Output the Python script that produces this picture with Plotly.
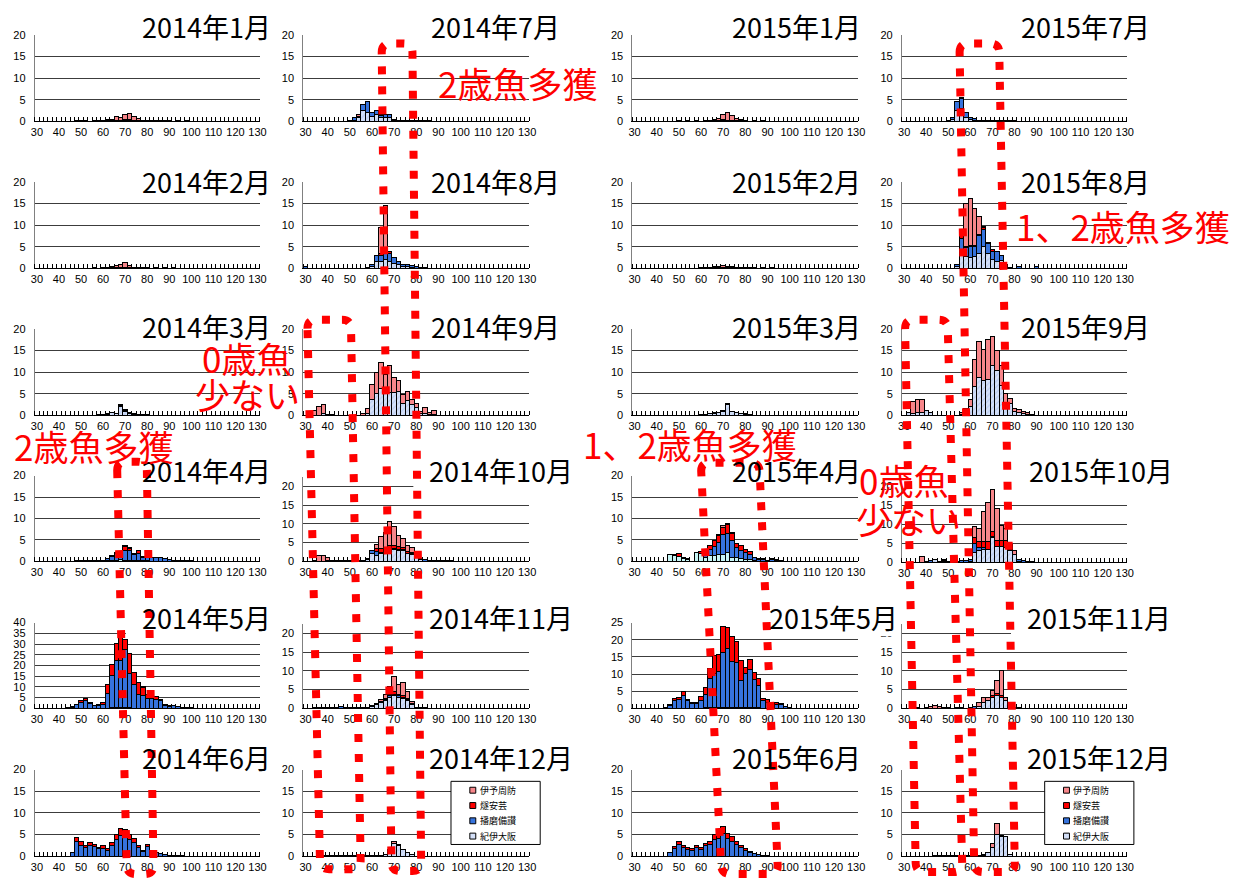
import plotly.graph_objects as go

W, H = 1240, 885

MONTHS = [
    "2014年1月", "2014年2月", "2014年3月", "2014年4月", "2014年5月", "2014年6月",
    "2014年7月", "2014年8月", "2014年9月", "2014年10月", "2014年11月", "2014年12月",
    "2015年1月", "2015年2月", "2015年3月", "2015年4月", "2015年5月", "2015年6月",
    "2015年7月", "2015年8月", "2015年9月", "2015年10月", "2015年11月", "2015年12月",
]
LENGTH_TICKS = list(range(30, 131, 10))
BIN_WIDTH = 2

# Counts per 2 cm length class: (first class in cm, counts of consecutive classes)
KII_OSAKA = {
    "2014年1月": (70, [0.1, 0.2, 0.1]),
    "2014年2月": (68, [0.1, 0.1]),
    "2014年3月": (62, [0.3, 0.6, 0.4, 2.1, 1.0, 0.5, 0.3, 0.2]),
    "2014年4月": (62, [0.2, 0.3, 0.3, 0.4, 0.3, 0.3, 0.3, 0.3, 0.2, 0.2]),
    "2014年5月": (64, [0.3, 0.3, 0.3, 0.3, 0.3]),
    "2014年7月": (52, [0.3, 0.8, 2.5, 2.0, 1.2, 1.6, 1.0, 1.0, 1.0, 0.2]),
    "2014年8月": (58, [0.2, 0.5, 1.5, 1.5, 2.0, 1.5, 1.2, 0.8, 0.5, 0.4, 0.3]),
    "2014年9月": (38, [0.5, 0.2, 0, 0, 0, 0, 0, 0, 0, 0, 0.5, 3.6, 5.0, 6.1, 5.5, 5.2,
                       5.2, 5.6, 2.8, 3.5, 2.5, 1.8, 0.5, 0.5, 0.3, 0.3]),
    "2014年10月": (40, [0.3, 0, 0, 0, 0, 0, 0, 0, 0, 0.5, 2.0, 1.5, 2.0, 2.3, 2.8, 3.2,
                        3.0, 3.0, 2.0, 1.8, 1.0, 0.5]),
    "2014年11月": (60, [0.5, 1.0, 1.5, 2.0, 3.0, 3.5, 3.0, 2.5, 2.0, 1.0]),
    "2014年12月": (66, [0.5, 1.5, 3.0, 2.5, 1.5, 0.8, 0.5]),
    "2015年1月": (70, [0.2, 0.1]),
    "2015年3月": (64, [0.4, 0.5, 0.6, 0.8, 2.5, 0.8, 0.6, 0.4, 0.3, 0.2]),
    "2015年4月": (46, [1.7, 1.3, 1.1, 0.7, 0.5, 0, 2.1, 1.8, 1.0, 1.3, 1.4, 1.5, 1.7, 2.0,
                       1.0, 0.8, 0.6, 0.5, 0.4, 0.2]),
    "2015年5月": (62, [0.2] * 13),
    "2015年7月": (52, [0.5, 2.5, 3.0, 1.0, 0.5, 0.3]),
    "2015年8月": (54, [0.5, 3.0, 2.8, 2.6, 2.8, 3.5, 5.0, 3.5, 2.0, 1.5, 1.8, 0.5]),
    "2015年9月": (32, [0.7, 0.5, 0.6, 0.7, 1.1, 0.6, 0, 0, 0, 0, 0, 0, 0.3, 0.8, 2.0, 6.7,
                       8.7, 8.0, 8.3, 11.5, 10.4, 7.0, 3.0, 2.7, 0.8, 0.6, 0.5, 0.3, 0.2]),
    "2015年10月": (44, [0.8, 0, 0, 0, 0, 0, 0, 0, 0.3, 2.7, 3.0, 3.5, 3.3, 6.5, 4.3, 4.3,
                        3.8, 3.0, 2.0, 0.3]),
    "2015年11月": (64, [0.5, 1.5, 2.0, 3.0, 3.5, 3.0, 2.0, 0.5]),
    "2015年12月": (66, [0.3, 0.8, 2.0, 5.0, 4.5, 4.5, 0.5]),
}

HARIMA_BISAN = {
    "2014年1月": (48, [0.2, 0.2, 0.2, 0, 0.2, 0.2, 0.2, 0.2, 0.1, 0.1, 0.1, 0.1, 0.1, 0.1,
                       0.1, 0.1, 0.2, 0.2, 0.2, 0.2, 0.2, 0.2, 0, 0.2, 0, 0.2]),
    "2014年2月": (56, [0.1, 0, 0.2, 0.1, 0.1, 0.1, 0.1, 0.1, 0.1, 0.1, 0.1, 0.1, 0.1, 0,
                       0.1, 0, 0.1, 0, 0.1]),
    "2014年3月": (58, [0.1] * 12),
    "2014年4月": (48, [0.2, 0.2, 0.2, 0.2, 0.2, 0.3, 0.3, 0.4, 0.8, 1.5, 1.4, 2.3, 2.3, 1.2,
                       1.5, 0.8, 0.7, 0.8, 0.8, 0.8, 0.6, 0.4, 0.3, 0.3, 0.3, 0.3, 0.2]),
    "2014年5月": (44, [0.3, 0.6, 1.6, 2.8, 3.6, 2.2, 1.3, 1.4, 2.0, 7.0, 15.0, 22.0, 22.0,
                       27.0, 16.0, 11.0, 6.5, 6.0, 4.5, 4.5, 4.2, 3.6, 1.5, 1.0, 1.2, 0.8,
                       0.5, 0.3, 0.2]),
    "2014年6月": (46, [0.8, 3.5, 2.6, 2.0, 2.5, 2.2, 1.7, 1.9, 1.4, 2.5, 3.8, 4.7, 4.7, 3.8,
                       3.2, 2.1, 1.0, 2.2, 0.8, 0.8, 0.6, 0.4, 0.3, 0.3, 0.2, 0.2]),
    "2014年7月": (50, [0.2, 0.7, 0.3, 1.3, 2.6, 0.9, 0.9, 0.4, 0.5, 0.5, 0.2, 0.3, 0.3, 0.3,
                       0.3, 0.2, 0.2, 0.2, 0.2]),
    "2014年8月": (30, [0.5, 0, 0, 0, 0, 0, 0, 0, 0, 0, 0, 0, 0, 0, 0, 0.5, 1.5, 1.5, 1.5,
                       2.0, 1.3, 0.8, 0.5, 0.4, 0.3, 0.4, 0.3, 0.3]),
    "2014年9月": (42, [0.2]),
    "2014年10月": (34, [0.3, 0, 0, 0, 0.3, 0.2, 0.2, 0.2, 0.2, 0.3, 0.2, 0.3, 0.3, 0.8, 1.0,
                        0.3, 0.3, 0.2, 0.2, 0.2, 0.2, 0.2, 0.2, 0.3, 0.3, 0.4, 0.3, 0.3,
                        0.2, 0.2, 0.2, 0.2]),
    "2014年11月": (34, [0.2, 0.3, 0.3, 0.2, 0.3, 0.3, 0.5, 0.3, 0.3, 0.3, 0.3, 0.3, 0.3,
                        0.3, 0.3, 0.3, 0.3, 0.3, 0.3, 0.3, 0.3, 0.3, 0.3, 0.3, 0.3, 0.2]),
    "2014年12月": (36, [0.2] * 15),
    "2015年1月": (50, [0.2, 0, 0.2, 0, 0.2, 0, 0.2, 0, 0.2, 0, 0.2, 0.1, 0.1, 0.1, 0.1, 0.1,
                       0, 0.2, 0, 0.2]),
    "2015年2月": (60, [0.1, 0.1, 0.1, 0.1, 0.1, 0.1, 0.1, 0.1, 0.1, 0.1, 0.1, 0.1, 0.1, 0,
                       0.1, 0, 0.1]),
    "2015年3月": (60, [0.1] * 12),
    "2015年4月": (52, [0.1, 0, 0, 0, 0, 0.7, 1.5, 2.0, 3.0, 4.5, 4.5, 3.8, 2.4, 2.0, 1.5,
                       1.3, 0.6, 0.5, 0.4, 0.3, 0.4, 0.3, 0.2]),
    "2015年5月": (44, [0.3, 0.8, 2.4, 2.6, 3.8, 2.2, 1.4, 1.3, 2.3, 3.8, 8.5, 10.0, 10.5,
                       16.1, 17.2, 13.6, 13.1, 7.8, 10.0, 11.2, 8.3, 6.6, 2.3, 1.8, 1.2,
                       1.2, 1.1, 0.4, 0.2]),
    "2015年6月": (46, [0.8, 1.8, 2.8, 2.0, 1.6, 1.4, 2.0, 1.6, 2.4, 2.8, 3.8, 4.2, 5.2, 4.0,
                       3.5, 2.8, 2.0, 1.4, 0.8, 0.6, 0.4, 0.3, 0.2]),
    "2015年7月": (50, [0.3, 0.5, 2.0, 2.3, 1.0, 0.3, 0.3, 0.3, 0.3, 0.3, 0.3, 0.3, 0.3, 0.2,
                       0.2, 0.2]),
    "2015年8月": (54, [0.3, 4.0, 2.0, 2.5, 2.2, 4.0, 4.0, 2.2, 2.0, 2.5, 1.1, 0.3, 0.3, 0,
                       0.4, 0, 0, 0, 0.4]),
    "2015年10月": (40, [0.3, 0.5, 0, 0.3, 0.2, 0.2, 0.2, 0.2, 0.5, 0.5, 0.5, 2.3, 1.0, 0.5,
                        0.2, 0.2, 0, 0, 0, 0, 0, 0.4, 0.4, 0.3, 0.2]),
    "2015年11月": (36, [0.2, 0, 0.3, 0, 0, 0, 0.3, 0.3, 0, 0.3, 0.2, 0, 0.3, 0.5, 0, 0, 0,
                        0, 0, 0, 0, 0.3, 0.3, 0.2]),
    "2015年12月": (44, [0.2] * 12),
}

HIUCHI_AKI = {
    "2014年1月": (60, [0.1, 0.1, 0.1, 0.2, 0.1, 0.2, 0.2, 0.1, 0.1, 0.1]),
    "2014年2月": (64, [0.1, 0.1, 0.1, 0.1, 0.1]),
    "2014年4月": (64, [0.3, 0.2, 0.5, 0.8, 0.5, 0.3, 0.7, 0.2]),
    "2014年5月": (46, [0.2, 0.4, 1.0, 1.2, 0.4, 0.2, 0.4, 0.9, 4.0, 5.0, 8.0, 12.3, 5.0, 9.5,
                       5.5, 5.5, 3.5, 2.0, 1.5, 1.3, 0.6, 0.3, 0.2, 0.3]),
    "2014年6月": (48, [0.8, 0.9, 0.5, 0.8, 0.5, 0.3, 0.5, 0.4, 0.8, 1.2, 1.8, 1.5, 1.2, 0.8,
                       0.5, 0.3, 0.6, 0.2]),
    "2014年7月": (66, [0.1]),
    "2014年8月": (64, [0.5, 0.5, 0.3]),
    "2014年10月": (60, [0.2, 0.8, 1.0, 1.0, 1.2, 0.8, 0.8, 0.5, 0.3, 0.3]),
    "2014年11月": (66, [0.3, 0.5, 0.8, 0.5, 0.5, 0.3]),
    "2015年1月": (68, [0.1, 0.1, 0.1, 0.1, 0.1]),
    "2015年4月": (48, [0.4, 0.8, 0.2, 0.1, 0, 0, 0.5, 0.5, 0.9, 1.5, 1.5, 1.8, 2.0, 1.7, 1.0,
                       1.2, 0.8, 0.5, 0.2, 0.2, 0.2, 0, 0.2, 0.2]),
    "2015年5月": (46, [0.2, 0.6, 0.6, 1.0, 0.4, 0.4, 0.5, 1.2, 2.2, 3.0, 5.2, 5.0, 7.7, 6.2,
                       7.2, 6.3, 6.0, 1.8, 2.9, 1.9, 1.9, 0.5, 0.9, 0.4, 0.6, 0.2]),
    "2015年6月": (48, [0.4, 0.7, 0.5, 0.4, 0.4, 0.5, 0.4, 0.6, 0.7, 1.2, 1.3, 1.6, 1.2, 1.0,
                       0.7, 0.5, 0.4, 0.2]),
    "2015年8月": (54, [0.2, 0.5, 0.3, 0.2, 0.3, 0.3, 0.5, 0.3, 0.3]),
    "2015年10月": (48, [0.4, 0, 0, 0, 0, 0, 0, 1.5, 1.5, 1.5, 2.0, 1.5, 1.5, 1.5, 2.0, 0.5,
                        0.2]),
    "2015年11月": (70, [0.3, 0.5, 0.5, 0.2]),
}

IYO_SUO = {
    "2014年1月": (62, [0.1, 0.3, 0.8, 0.7, 1.2, 1.3, 0.9, 0.5, 0.1]),
    "2014年2月": (62, [0.2, 0.3, 0.4, 0.7, 1.0, 0.5, 0.2]),
    "2014年3月": (68, [0.2, 0.3, 0.1]),
    "2014年4月": (68, [0.1, 0.2, 0.1, 0, 0.1]),
    "2014年5月": (68, [0.7, 0, 0, 0, 0, 0.5]),
    "2014年7月": (54, [0.5, 0, 0, 0, 0, 0.1]),
    "2014年8月": (64, [6.0, 10.5, 0.2]),
    "2014年9月": (32, [0.3, 1.2, 2.0, 2.1, 0.1, 0, 0, 0, 0, 0, 0, 0, 0.5, 1.0, 3.5, 4.8, 6.1,
                       4.0, 6.3, 3.5, 2.4, 2.1, 2.1, 1.1, 0.9, 0.3, 1.3, 0.3, 0.9]),
    "2014年10月": (36, [1.6, 1.6, 0.7, 0, 0, 0, 0, 0, 0, 0, 0, 0, 0, 1.2, 3.2, 4.0, 6.3, 5.0,
                        3.0, 2.3, 1.7, 1.3, 0.2]),
    "2014年11月": (64, [0.5, 1.0, 2.0, 4.0, 2.5, 3.5, 2.0, 0.5]),
    "2014年12月": (70, [0.5, 0.3]),
    "2015年1月": (64, [0.2, 0.3, 0.5, 1.0, 1.7, 1.2, 0.5, 0.3]),
    "2015年2月": (66, [0.3, 0.3, 0.5, 0.4, 0.3, 0.2, 0.1]),
    "2015年3月": (70, [0.2, 0.1]),
    "2015年4月": (68, [0.2, 0.3, 0.4, 0.2]),
    "2015年7月": (56, [0.2]),
    "2015年8月": (56, [1.0, 9.9, 10.8, 8.5, 4.2, 0.2]),
    "2015年9月": (34, [2.7, 3.0, 2.9, 0, 0, 0, 0, 0, 0, 0, 0, 0.4, 0.7, 1.6, 6.3, 8.4, 7.3,
                       9.1, 6.8, 4.6, 4.5, 2.0, 1.3, 0.8, 0.7, 0.5, 0.3, 0.1]),
    "2015年10月": (38, [1.6, 0, 0, 0, 0, 0.2, 0, 0, 0, 0, 0, 0, 2.9, 3.4, 7.8, 10.2, 11.1,
                        8.5, 3.9, 3.2, 1.2, 1.0]),
    "2015年11月": (42, [0.5, 0.8, 0.4, 0, 0, 0, 0, 0, 0, 0, 0, 1.0, 1.5, 1.0, 1.5, 3.5, 6.5,
                        0.8]),
    "2015年12月": (70, [1.0, 2.5, 0.3]),
}

# stacking order, bottom to top
SERIES = [
    ("紀伊大阪", KII_OSAKA),
    ("播磨備讃", HARIMA_BISAN),
    ("燧安芸", HIUCHI_AKI),
    ("伊予周防", IYO_SUO),
]

NOTES = [
    ("2歳魚多獲", 518, 78),
    ("1、2歳魚多獲", 1129, 223),
    ("0歳魚", 245, 356),
    ("少ない", 246, 393),
    ("2歳魚多獲", 90, 446),
    ("1、2歳魚多獲", 692, 444),
    ("0歳魚", 908, 480),
    ("少ない", 913, 520),
]

# ---------------------------------------------------------------- styling
FILL = {"紀伊大阪": "#D4E0F8", "播磨備讃": "#3673DD", "燧安芸": "#FF0000", "伊予周防": "#F7868A"}
APRIL_KII = "#C8F6F6"
CJK = "Noto Sans CJK JP"
NUM = "Liberation Sans, Arial, sans-serif"

# panel geometry in pixels
COL_X = [(31, 258), (302, 530), (634, 862), (906, 1133)]
ROW_Y = [(29, 117), (178, 266), (327, 415), (476, 563), (625, 712), (774, 862)]
PANEL_Y = {"2014年10月": (477, 563), "2014年11月": (626, 712), "2015年10月": (487, 564),
           "2015年11月": (626, 712)}
Y_MAX = {"2014年5月": 40, "2015年5月": 25, "2014年10月": 22.6, "2014年11月": 22.6,
         "2015年11月": 22.6}
TITLE_LEFT = [137, 429, 732, 1024]
TITLE_Y = [21, 178, 325, 471, 620, 762]
TITLE_LEFT_OVERRIDE = {"2014年10月": 427, "2014年11月": 427, "2014年12月": 427,
                       "2015年5月": 770, "2015年10月": 1032, "2015年11月": 1030,
                       "2015年12月": 1030}
LEGEND_BOXES = {"2014年12月": (451, 786), "2015年12月": (1050, 786)}

# dotted outlines (corner points in pixels: TL, TR, BR, BL)
LOOPS = [
    [(381, 38), (412, 38), (421, 877), (391, 877)],
    [(306, 318), (350, 318), (360, 875), (319, 875)],
    [(114, 462), (144, 462), (151, 880), (124, 880)],
    [(703, 463), (762, 463), (781, 880), (724, 880)],
    [(964, 38), (1004, 38), (1020, 878), (979, 878)],
    [(909, 318), (952, 318), (967, 878), (920, 878)],
]


def px(x):
    return x / W


def py(y):
    return 1 - y / H


fig = go.Figure()
layout = dict(
    width=W, height=H, margin=dict(l=0, r=0, t=0, b=0),
    paper_bgcolor="white", plot_bgcolor="white", barmode="stack", showlegend=False,
    font=dict(family=NUM, size=11, color="black"),
)

shapes = []
annotations = []

for i, month in enumerate(MONTHS):
    col, row = divmod(i, 6)
    n = i + 1
    xa = "x" if n == 1 else f"x{n}"
    ya = "y" if n == 1 else f"y{n}"
    x0, x1 = COL_X[col]
    yt, yb = PANEL_Y.get(month, ROW_Y[row])
    ymax = Y_MAX.get(month, 20)

    for name, table in SERIES:
        start, counts = table.get(month, (30, []))
        xs, ys = [], []
        for j, v in enumerate(counts):
            if v > 0:
                xs.append(start + BIN_WIDTH * j)
                ys.append(v)
        marker = dict(color=FILL[name], line=dict(color="black", width=1))
        if name == "紀伊大阪":
            if month.endswith("年4月"):
                marker["color"] = APRIL_KII
            else:
                marker["pattern"] = dict(shape="/", fgcolor="#95AEE6", bgcolor=FILL[name],
                                         size=4, solidity=0.25)
        fig.add_trace(go.Bar(x=xs, y=ys, width=BIN_WIDTH, name=name, xaxis=xa, yaxis=ya,
                             marker=marker, hoverinfo="skip"))

    axis_key = "" if n == 1 else str(n)
    layout["xaxis" + axis_key] = dict(
        domain=[px(x0), px(x1)], range=[29, 131], anchor=ya,
        tickmode="array", tickvals=LENGTH_TICKS, ticks="",
        showline=True, linecolor="black", linewidth=1, showgrid=False, zeroline=False,
        tickfont=dict(size=11, family=NUM, color="black"),
        minor=dict(tickmode="array", tickvals=[29 + 2 * k for k in range(52)],
                   ticks="inside", ticklen=4, tickwidth=1, tickcolor="black",
                   showgrid=False),
        fixedrange=True,
    )
    layout["yaxis" + axis_key] = dict(
        domain=[py(yb), py(yt)], range=[0, ymax + 0.02], anchor=xa,
        tickmode="array", tickvals=list(range(0, int(ymax) + 1, 5)),
        showgrid=True, gridcolor="#3c3c3c", gridwidth=1,
        showline=True, linecolor="#808080", linewidth=1, zeroline=False,
        ticks="outside", ticklen=6, tickcolor="rgba(0,0,0,0)",
        tickfont=dict(size=11, family=NUM, color="black"),
        fixedrange=True,
    )

    # panel title on a white box that hides the top gridline
    tl = TITLE_LEFT_OVERRIDE.get(month, TITLE_LEFT[col])
    ty = TITLE_Y[row]
    tw = 128 if len(month) == 7 else 142
    shapes.append(dict(type="rect", xref="paper", yref="paper", layer="above",
                       x0=px(tl - 14), x1=px(tl + tw + 6), y0=py(ty + 19), y1=py(ty - 16),
                       fillcolor="white", line=dict(width=0)))
    annotations.append(dict(text=month, xref="paper", yref="paper", x=px(tl), y=py(ty),
                            xanchor="left", yanchor="middle", showarrow=False,
                            font=dict(family=CJK, size=27, color="black")))

    # series key drawn inside the December panels
    if month in LEGEND_BOXES:
        lx, ly = LEGEND_BOXES[month]
        shapes.append(dict(type="rect", xref="paper", yref="paper", layer="above",
                           x0=px(lx), x1=px(lx + 90), y0=py(ly + 64), y1=py(ly),
                           fillcolor="white", line=dict(color="black", width=1)))
        for k, (name, _) in enumerate(reversed(SERIES)):
            cy = ly + 9 + 15.5 * k
            shapes.append(dict(type="rect", xref="paper", yref="paper", layer="above",
                               x0=px(lx + 19), x1=px(lx + 25), y0=py(cy + 3), y1=py(cy - 3),
                               fillcolor=FILL[name], line=dict(color="black", width=1)))
            annotations.append(dict(text=name, xref="paper", yref="paper",
                                    x=px(lx + 27), y=py(cy), xanchor="left",
                                    yanchor="middle", showarrow=False,
                                    font=dict(family=CJK, size=9, color="black")))


def rounded_path(pts, r=9):
    """Closed path through the corner points with rounded corners (pixels)."""
    m = len(pts)
    cmds = []

    def toward(a, b):
        dx, dy = b[0] - a[0], b[1] - a[1]
        d = (dx * dx + dy * dy) ** 0.5
        return (a[0] + dx / d * r, a[1] + dy / d * r)

    for k in range(m):
        p = pts[k]
        a = toward(p, pts[k - 1])
        b = toward(p, pts[(k + 1) % m])
        cmds.append(("M" if k == 0 else "L") + f"{px(a[0]):.5f},{py(a[1]):.5f}")
        cmds.append(f"Q{px(p[0]):.5f},{py(p[1]):.5f} {px(b[0]):.5f},{py(b[1]):.5f}")
    cmds.append("Z")
    return " ".join(cmds)


for loop in LOOPS:
    shapes.append(dict(type="path", xref="paper", yref="paper", layer="above",
                       path=rounded_path(loop),
                       line=dict(color="#FF0000", width=8, dash="8px,12px")))

for text, x, y in NOTES:
    annotations.append(dict(text=text, xref="paper", yref="paper", x=px(x), y=py(y),
                            xanchor="center", yanchor="middle", showarrow=False,
                            font=dict(family=CJK, size=35, color="#FF0000")))

layout["shapes"] = shapes
layout["annotations"] = annotations

fig.update_layout(**layout)
fig.write_html("out.html")
